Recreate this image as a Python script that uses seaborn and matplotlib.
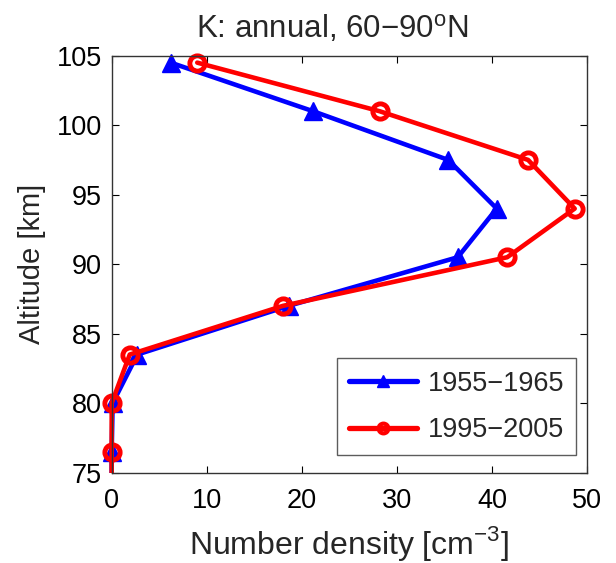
import pandas as pd
import seaborn as sns
import matplotlib.pyplot as plt
from matplotlib.lines import Line2D
from matplotlib.patches import Rectangle

# altitude levels [km]
altitude = [104.5, 101.0, 97.5, 94.0, 90.5, 87.0, 83.5, 80.0, 76.5, 73.0]
# number density [cm^-3]
dens_1955_1965 = [6.2, 21.2, 35.4, 40.5, 36.4, 18.6, 2.7, 0.1, 0.0, 0.0]
dens_1995_2005 = [9.0, 28.2, 43.8, 48.7, 41.6, 18.0, 1.9, 0.0, 0.0, 0.0]

df_old = pd.DataFrame({'alt': altitude, 'dens': dens_1955_1965})
df_new = pd.DataFrame({'alt': altitude, 'dens': dens_1995_2005})

sns.set_style('ticks')
plt.rcParams['font.family'] = ['Liberation Sans', 'DejaVu Sans']
fs = 21

blue_style = dict(marker='^', markersize=13, markeredgewidth=1,
                  markerfacecolor='#0000ff', markeredgecolor='#0000ff')
red_style = dict(marker='o', markersize=11, markeredgewidth=3.5,
                 markerfacecolor='none', markeredgecolor='#ff0000')

fig = plt.figure(figsize=(6.16, 5.63), dpi=100)
ax = fig.add_axes([0.1813, 0.1604, 0.7717, 0.7407])

# lines (clipped at the bottom of the axes only)
sns.lineplot(data=df_old, x='dens', y='alt', sort=False, estimator=None,
             color='#0000ff', lw=3.3, ax=ax, legend=False)
# markers (not clipped, like matlab) - only points inside the y range
sns.lineplot(data=df_old[df_old.alt >= 75], x='dens', y='alt', sort=False,
             estimator=None, color='#0000ff', linestyle='', clip_on=False,
             ax=ax, legend=False, **blue_style)
sns.lineplot(data=df_new, x='dens', y='alt', sort=False, estimator=None,
             color='#ff0000', lw=3.3, ax=ax, legend=False)
sns.lineplot(data=df_new[df_new.alt >= 75], x='dens', y='alt', sort=False,
             estimator=None, color='#ff0000', linestyle='', clip_on=False,
             ax=ax, legend=False, **red_style)

clip = Rectangle((-0.1, 0), 1.2, 1.1, transform=ax.transAxes)
for ln in [ax.lines[0], ax.lines[2]]:
    ln.set_clip_path(clip)

ax.set_xlim(0, 50)
ax.set_ylim(75, 105)
ax.set_xticks(range(0, 51, 10))
ax.set_yticks(range(75, 106, 5))
ax.tick_params(direction='in', length=5, width=0.8, top=True, right=True,
               labelsize=19.5, pad=7, colors='black')
ax.tick_params(axis='x', pad=11)
for sp in ax.spines.values():
    sp.set_visible(True)
    sp.set_linewidth(1)
    sp.set_color('#333333')

ax.set_xlabel('Number density [cm$^{\\mathregular{-3}}$]', fontsize=23,
              labelpad=7)
ax.set_ylabel('Altitude [km]', fontsize=fs, labelpad=8)
ax.set_title('K: annual, 60\u221290$^{\\mathregular{o}}$N', fontsize=22.5,
             pad=13, x=0.464)

leg_blue = dict(blue_style, markersize=9)
leg_red = dict(red_style, markersize=7, markeredgewidth=3)
handles = [Line2D([], [], color='#0000ff', lw=3.8, **leg_blue),
           Line2D([], [], color='#ff0000', lw=3.8, **leg_red)]
leg = ax.legend(handles, ['1955\u22121965', '1995\u22122005'],
                loc='lower right', bbox_to_anchor=(0.977, 0.042),
                borderaxespad=0, fontsize=19.5, handlelength=2.5,
                frameon=True, fancybox=False, borderpad=0.45,
                labelspacing=0.75, handletextpad=0.4)
leg.get_frame().set_edgecolor('#333333')
leg.get_frame().set_linewidth(1)

fig.savefig('out.png', dpi=100)
